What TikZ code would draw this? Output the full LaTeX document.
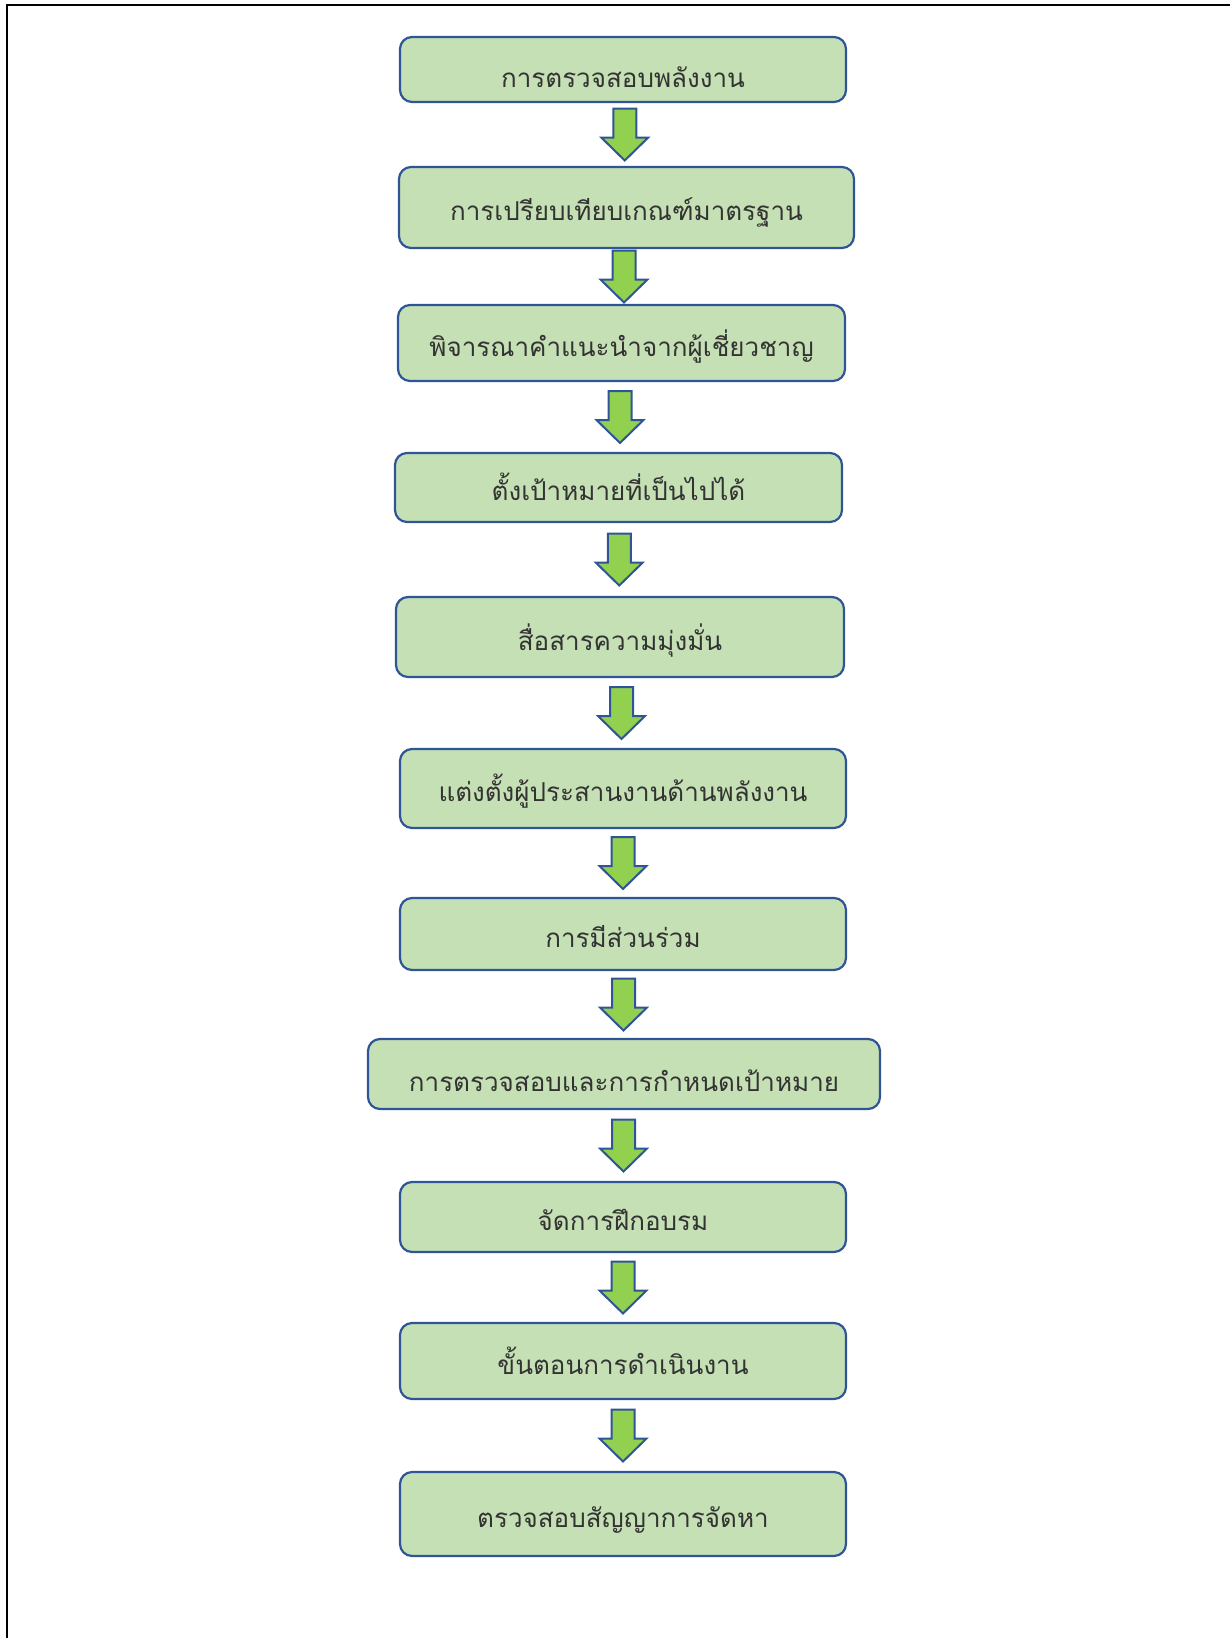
\documentclass[tikz,border=0pt]{standalone}
\usepackage{fontspec}
\newfontfamily\thaifont[Script=Thai]{Loma}
\usepackage{tikz}
\usetikzlibrary{calc}

\definecolor{boxfill}{HTML}{C5E0B4}
\definecolor{boxline}{HTML}{2F5597}
\definecolor{arrowfill}{HTML}{92D050}

\begin{document}
\begin{tikzpicture}[x=1pt, y=-1pt,
  font=\thaifont\fontsize{26}{30}\selectfont,
  stage/.style={rectangle, draw=boxline, fill=boxfill, line width=2.2pt,
                rounded corners=12pt, align=center, inner sep=0pt,
                minimum width=446pt, text=black!80,
                text height=28pt, text depth=2pt},
  flowarrow/.pic={\draw[draw=boxline, fill=arrowfill, line width=2pt,
                  line join=miter]
                  (-11.5,-26) -- (11.5,-26) -- (11.5,3) -- (23.5,3)
                  -- (0,26) -- (-23.5,3) -- (-11.5,3) -- cycle;},
]
\useasboundingbox (0,0) rectangle (1230,1638);

% === Frame ===
\draw[line width=2.2pt] (7,1638) -- (7,5) -- (1230,5);

% === Stages ===
\node[stage, minimum height=65pt, text height=38pt] (audit) at (623,69.5)
  {การตรวจสอบพลังงาน};
\node[stage, minimum height=81pt, minimum width=455pt] (bench) at (626.5,207.5)
  {การเปรียบเทียบเกณฑ์มาตรฐาน};
\node[stage, minimum height=76pt, minimum width=447pt] (expert) at (621.5,343)
  {พิจารณาคำแนะนำจากผู้เชี่ยวชาญ};
\node[stage, minimum height=69pt, minimum width=447pt] (target) at (618.5,487.5)
  {ตั้งเป้าหมายที่เป็นไปได้};
\node[stage, minimum height=80pt, minimum width=448pt] (commit) at (620,637)
  {สื่อสารความมุ่งมั่น};
\node[stage, minimum height=79pt] (coord) at (623,788.5)
  {แต่งตั้งผู้ประสานงานด้านพลังงาน};
\node[stage, minimum height=72pt] (involve) at (623,934) {การมีส่วนร่วม};
\node[stage, minimum height=70pt, minimum width=512pt, text height=36pt]
  (review) at (624,1074) {การตรวจสอบและการกำหนดเป้าหมาย};
\node[stage, minimum height=70pt] (train) at (623,1217) {จัดการฝึกอบรม};
\node[stage, minimum height=76pt] (operate) at (623,1361) {ขั้นตอนการดำเนินงาน};
\node[stage, minimum height=84pt] (contract) at (623,1514)
  {ตรวจสอบสัญญาการจัดหา};

% === Arrows ===
\pic at ($(audit.south)!0.5!(bench.north)$) {flowarrow};
\pic at ($(bench.south)!0.5!(expert.north)$) {flowarrow};
\pic at ($(expert.south)!0.5!(target.north)$) {flowarrow};
\pic at ($(target.south)!0.5!(commit.north)$) {flowarrow};
\pic at ($(commit.south)!0.5!(coord.north)$) {flowarrow};
\pic at ($(coord.south)!0.5!(involve.north)$) {flowarrow};
\pic at ($(involve.south)!0.5!(review.north)$) {flowarrow};
\pic at ($(review.south)!0.5!(train.north)$) {flowarrow};
\pic at ($(train.south)!0.5!(operate.north)$) {flowarrow};
\pic at ($(operate.south)!0.5!(contract.north)$) {flowarrow};

\end{tikzpicture}
\end{document}
